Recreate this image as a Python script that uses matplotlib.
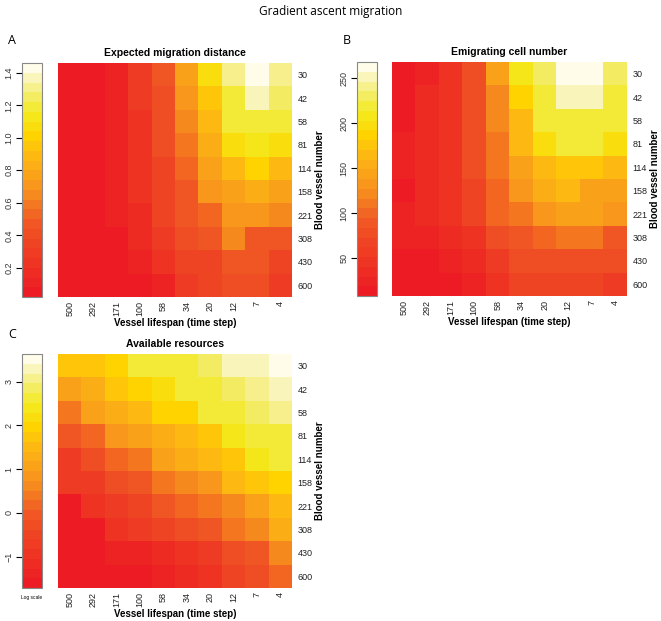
import numpy as np
import matplotlib
matplotlib.use("Agg")
import matplotlib.pyplot as plt
from matplotlib.colors import LinearSegmentedColormap, ListedColormap, BoundaryNorm
from matplotlib.cm import ScalarMappable

W, H = 661, 621

lifespans = ["500", "292", "171", "100", "58", "34", "20", "12", "7", "4"]
vessels = ["30", "42", "58", "81", "114", "158", "221", "308", "430", "600"]

# expected migration distance (rows = vessel number, cols = lifespan)
distance = [
    [0.05, 0.05, 0.11, 0.29, 0.47, 0.77, 1.07, 1.28, 1.43, 1.31],
    [0.05, 0.05, 0.11, 0.29, 0.41, 0.71, 0.95, 1.19, 1.37, 1.25],
    [0.05, 0.05, 0.11, 0.23, 0.41, 0.65, 0.89, 1.19, 1.19, 1.19],
    [0.05, 0.05, 0.11, 0.23, 0.41, 0.59, 0.83, 1.07, 1.13, 1.07],
    [0.05, 0.05, 0.11, 0.23, 0.35, 0.53, 0.77, 0.89, 1.01, 0.89],
    [0.05, 0.05, 0.11, 0.23, 0.35, 0.47, 0.71, 0.77, 0.83, 0.77],
    [0.05, 0.05, 0.11, 0.17, 0.35, 0.47, 0.53, 0.71, 0.71, 0.65],
    [0.05, 0.05, 0.05, 0.17, 0.29, 0.41, 0.47, 0.65, 0.47, 0.47],
    [0.05, 0.05, 0.05, 0.11, 0.23, 0.35, 0.35, 0.47, 0.47, 0.35],
    [0.05, 0.05, 0.05, 0.05, 0.11, 0.29, 0.35, 0.41, 0.41, 0.29],
]

# emigrating cell number
emigrating = [
    [13, 24, 46, 78, 143, 208, 230, 262, 262, 230],
    [13, 35, 46, 78, 122, 187, 219, 252, 252, 219],
    [13, 35, 46, 78, 122, 165, 219, 219, 219, 219],
    [24, 35, 46, 78, 111, 165, 198, 219, 219, 198],
    [24, 35, 46, 78, 111, 143, 165, 176, 176, 165],
    [13, 35, 46, 68, 100, 133, 154, 165, 143, 143],
    [24, 35, 46, 68, 100, 111, 133, 143, 143, 133],
    [24, 24, 35, 46, 78, 89, 100, 111, 111, 89],
    [13, 13, 24, 35, 57, 78, 78, 78, 78, 78],
    [13, 13, 13, 24, 46, 68, 68, 68, 68, 57],
]

# available resources (log scale)
resources = [
    [1.74, 1.74, 1.96, 2.63, 2.63, 2.63, 2.85, 3.30, 3.30, 3.52],
    [1.07, 1.29, 1.74, 1.96, 2.18, 2.63, 2.63, 2.85, 3.07, 3.30],
    [0.40, 1.07, 1.29, 1.51, 1.96, 1.96, 2.63, 2.63, 2.85, 3.07],
    [-0.05, 0.18, 0.85, 1.07, 1.29, 1.51, 1.74, 2.41, 2.63, 2.63],
    [-0.72, -0.27, 0.18, 0.40, 1.07, 1.29, 1.51, 1.74, 2.41, 2.63],
    [-0.72, -0.72, -0.27, -0.05, 0.40, 0.62, 0.85, 1.51, 1.74, 1.96],
    [-1.61, -0.94, -0.72, -0.49, -0.05, 0.18, 0.40, 0.62, 1.07, 1.51],
    [-1.61, -1.61, -0.94, -0.72, -0.49, -0.27, -0.05, 0.40, 0.62, 1.29],
    [-1.61, -1.61, -1.39, -1.39, -1.16, -0.94, -0.72, -0.27, -0.05, 0.62],
    [-1.61, -1.61, -1.61, -1.61, -1.39, -1.16, -0.94, -0.49, -0.27, 0.18],
]

ranges = [(0.02, 1.46), (8, 268), (-1.72, 3.63)]
cbar_ticks = [[0.2, 0.4, 0.6, 0.8, 1.0, 1.2, 1.4], [50, 100, 150, 200, 250], [-1, 0, 1, 2, 3]]
cbar_labels = [["0.2", "0.4", "0.6", "0.8", "1.0", "1.2", "1.4"],
               ["50", "100", "150", "200", "250"],
               ["\u22121", "0", "1", "2", "3"]]
titles = ["Expected migration distance", "Emigrating cell number", "Available resources"]

# heat-like palette, 24 levels
anchors = [(0.0, "#ED1C24"), (0.2, "#EF4123"), (0.32, "#F15A24"), (0.45, "#F7901E"),
           (0.6, "#FDB714"), (0.7, "#FFD400"), (0.8, "#F3EA1E"), (0.88, "#F4EC6A"),
           (0.94, "#F8F3A8"), (1.0, "#FFFDEA")]
base = LinearSegmentedColormap.from_list("heat", anchors)
cmap = ListedColormap(base(np.linspace(0, 1, 24)))

plt.rcParams["font.family"] = ["Liberation Sans", "DejaVu Sans"]
fig = plt.figure(figsize=(W / 100, H / 100), dpi=100)


def box(x0, y0, x1, y1):
    return [x0 / W, 1 - y1 / H, (x1 - x0) / W, (y1 - y0) / H]


# pixel boxes: (colorbar, heatmap)
layout = [
    ((22, 63, 42, 297), (58, 63, 292, 297)),
    ((357, 62, 377, 296), (392, 62, 627, 296)),
    ((22, 354, 42, 588), (58, 354, 292, 588)),
]
panels = ["A", "B", "C"]
panel_pos = [(8, 40), (343, 40), (8, 335)]

for i, data in enumerate([distance, emigrating, resources]):
    vmin, vmax = ranges[i]
    bounds = np.linspace(vmin, vmax, 25)
    norm = BoundaryNorm(bounds, cmap.N)
    cb_box, hm_box = layout[i]

    ax = fig.add_axes(box(*hm_box))
    ax.imshow(np.array(data), cmap=cmap, norm=norm, aspect="auto", interpolation="nearest")
    for s in ax.spines.values():
        s.set_visible(False)
    ax.set_xticks(range(10))
    ax.set_xticklabels(lifespans, rotation=90, fontsize=6.5, color="#222222")
    ax.set_yticks(range(10))
    ax.set_yticklabels(vessels, fontsize=6.5, color="#222222")
    ax.yaxis.tick_right()
    ax.tick_params(axis="x", length=0, pad=3)
    ax.tick_params(axis="y", length=0, pad=4)
    ax.yaxis.set_label_position("right")
    ax.set_ylabel("Blood vessel number", fontsize=7, fontweight="bold", labelpad=2, rotation=90)
    ax.set_xlabel("Vessel lifespan (time step)", fontsize=7, fontweight="bold", labelpad=1)
    ax.set_title(titles[i], fontsize=7.5, fontweight="bold", pad=5)

    cax = fig.add_axes(box(*cb_box))
    sm = ScalarMappable(norm=norm, cmap=cmap)
    cb = fig.colorbar(sm, cax=cax, ticks=cbar_ticks[i])
    cb.outline.set_edgecolor("#888888")
    cb.outline.set_linewidth(0.8)
    cax.yaxis.set_ticks_position("left")
    cax.set_yticklabels(cbar_labels[i], rotation=90, va="center", fontsize=6.5, color="#333333")
    cax.tick_params(length=4, width=0.8, pad=2)
    cax.minorticks_off()

    fig.text(panel_pos[i][0] / W, 1 - panel_pos[i][1] / H, panels[i], fontsize=9,
             family=["Open Sans", "DejaVu Sans"], va="center", ha="left")

fig.text(32 / W, 1 - 598 / H, "Log scale", fontsize=3.5, ha="center", va="center")
fig.text(0.5, 1 - 12 / H, "Gradient ascent migration", fontsize=8.5, ha="center", va="center",
         family=["Open Sans", "DejaVu Sans"])

fig.savefig("out.png", dpi=100)
